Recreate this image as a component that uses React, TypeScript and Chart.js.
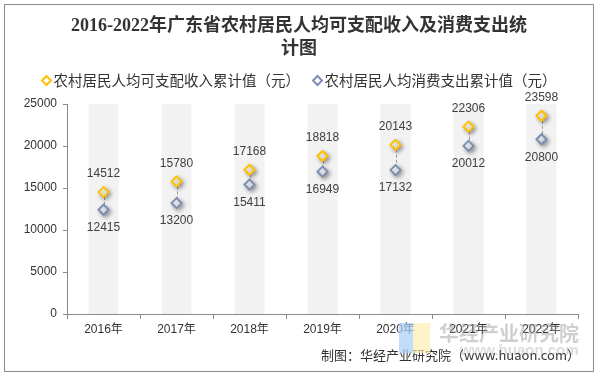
import React, { useEffect, useRef } from 'react';
import { Chart, registerables } from 'chart.js';

Chart.register(...registerables);

const years = ['2016年', '2017年', '2018年', '2019年', '2020年', '2021年', '2022年'];
const income = [14512, 15780, 17168, 18818, 20143, 22306, 23598];
const expense = [12415, 13200, 15411, 16949, 17132, 20012, 20800];
const yMin = 0;
const yMax = 25000;
const yStep = 5000;

const titleLines = ['2016-2022年广东省农村居民人均可支配收入及消费支出统', '计图'];
const incomeLabel = '农村居民人均可支配收入累计值（元）';
const expenseLabel = '农村居民人均消费支出累计值（元）';
const sourceText = '制图：华经产业研究院（www.huaon.com）';
const watermarkText = '华经产业研究院';
const watermarkUrl = 'www.huaon.com';

const YELLOW = '#FFC000';
const BLUE = '#7D8EB5';
const AXIS = '#8a8a8a';
const TEXT = '#333333';
const LATIN = "'Liberation Sans', Arial, 'Noto Sans CJK SC', sans-serif";
const CJK = "'Noto Sans CJK SC', 'Liberation Sans', sans-serif";

function diamond(ctx: CanvasRenderingContext2D, x: number, y: number, r: number, color: string, lw: number) {
  ctx.beginPath();
  ctx.moveTo(x, y - r);
  ctx.lineTo(x + r, y);
  ctx.lineTo(x, y + r);
  ctx.lineTo(x - r, y);
  ctx.closePath();
  ctx.fillStyle = '#ffffff';
  ctx.fill();
  ctx.lineWidth = lw;
  ctx.strokeStyle = color;
  ctx.stroke();
}

const decorPlugin = {
  id: 'decor',
  beforeDatasetsDraw(chart: any) {
    const { ctx, chartArea, scales } = chart;
    const xs = scales.x;
    const ys = scales.y;
    const step = xs.width / years.length;
    const bw = step * 0.41;
    ctx.save();
    ctx.fillStyle = '#f2f2f2';
    years.forEach((_, i) => {
      const cx = xs.getPixelForValue(i);
      ctx.fillRect(cx - bw / 2, chartArea.top, bw, chartArea.bottom - chartArea.top);
    });
    ctx.strokeStyle = '#9a9a9a';
    ctx.lineWidth = 1;
    ctx.setLineDash([3, 2]);
    years.forEach((_, i) => {
      const cx = Math.round(xs.getPixelForValue(i)) + 0.5;
      ctx.beginPath();
      ctx.moveTo(cx, ys.getPixelForValue(income[i]));
      ctx.lineTo(cx, ys.getPixelForValue(expense[i]));
      ctx.stroke();
    });
    ctx.restore();
  },
  beforeDatasetDraw(chart: any) {
    const ctx = chart.ctx;
    ctx.save();
    ctx.shadowColor = 'rgba(0,0,0,0.35)';
    ctx.shadowBlur = 4;
    ctx.shadowOffsetX = 2;
    ctx.shadowOffsetY = 2;
  },
  afterDatasetDraw(chart: any) {
    chart.ctx.restore();
  },
  afterDatasetsDraw(chart: any) {
    const { ctx, scales } = chart;
    const xs = scales.x;
    const ys = scales.y;
    ctx.save();
    ctx.font = `12px ${LATIN}`;
    ctx.fillStyle = '#404040';
    ctx.textAlign = 'center';
    ctx.textBaseline = 'middle';
    years.forEach((_, i) => {
      const cx = xs.getPixelForValue(i);
      ctx.fillText(String(income[i]), cx, ys.getPixelForValue(income[i]) - 18);
      ctx.fillText(String(expense[i]), cx, ys.getPixelForValue(expense[i]) + 18);
    });
    ctx.restore();
  },
  afterDraw(chart: any) {
    const ctx = chart.ctx;
    ctx.save();
    // legend
    const ds = chart.data.datasets;
    ctx.font = `14.5px ${CJK}`;
    ctx.textBaseline = 'middle';
    ctx.textAlign = 'left';
    const markGap = 7;
    const itemGap = 17.5;
    const widths = ds.map((d: any) => ctx.measureText(d.label).width);
    const total = 5 + (markGap + widths[0]) + itemGap + (markGap + widths[1]);
    let x = chart.width / 2 - total / 2 + 5;
    const ly = 80.5;
    ds.forEach((d: any, i: number) => {
      diamond(ctx, x, ly, 4.5, d.pointBorderColor, 2);
      ctx.fillStyle = TEXT;
      ctx.fillText(d.label, x + markGap, ly);
      x += markGap + widths[i] + itemGap;
    });
    // source
    ctx.font = `13px ${CJK}`;
    ctx.fillStyle = TEXT;
    ctx.textAlign = 'right';
    ctx.fillText(sourceText, 580, 355);
    // watermark
    ctx.globalAlpha = 0.7;
    ctx.fillStyle = '#a9cdfb';
    ctx.fillRect(399, 323, 14, 30);
    ctx.fillStyle = '#fdeeb0';
    ctx.fillRect(413, 323, 17, 30);
    ctx.globalAlpha = 1;
    ctx.textAlign = 'left';
    ctx.font = `bold 20px ${CJK}`;
    ctx.fillStyle = 'rgba(140,140,140,0.42)';
    ctx.fillText(watermarkText, 439, 333);
    ctx.font = `bold 15px ${LATIN}`;
    ctx.fillStyle = 'rgba(140,140,140,0.3)';
    ctx.fillText(watermarkUrl, 460, 351);
    // border
    ctx.strokeStyle = '#8c8c8c';
    ctx.lineWidth = 1;
    ctx.strokeRect(4.5, 4.5, 589, 367);
    ctx.restore();
  },
};

export default function App() {
  const ref = useRef<HTMLCanvasElement | null>(null);

  useEffect(() => {
    if (!ref.current) return;
    const chart = new Chart(ref.current, {
      type: 'line',
      data: {
        labels: years,
        datasets: [
          {
            label: incomeLabel,
            data: income,
            showLine: false,
            pointStyle: 'rectRot',
            pointRadius: 5,
            pointHoverRadius: 5,
            pointBorderWidth: 2,
            pointBorderColor: YELLOW,
            pointBackgroundColor: '#ffffff',
            borderColor: YELLOW,
            backgroundColor: '#ffffff',
          },
          {
            label: expenseLabel,
            data: expense,
            showLine: false,
            pointStyle: 'rectRot',
            pointRadius: 5,
            pointHoverRadius: 5,
            pointBorderWidth: 2,
            pointBorderColor: BLUE,
            pointBackgroundColor: '#ffffff',
            borderColor: BLUE,
            backgroundColor: '#ffffff',
          },
        ],
      },
      options: {
        responsive: false,
        animation: false,
        devicePixelRatio: 1,
        events: [],
        layout: { padding: { top: 0, left: 0, right: 0, bottom: 33 } },
        plugins: {
          tooltip: { enabled: false },
          title: {
            display: true,
            text: titleLines,
            color: TEXT,
            font: { size: 18, weight: 'bold', family: "'Liberation Serif', 'Noto Sans CJK SC', serif", lineHeight: 23 / 18 },
            padding: { top: 15, bottom: 43 },
          },
          legend: { display: false },
        },
        scales: {
          x: {
            type: 'category',
            offset: true,
            grid: { display: true, offset: true, drawOnChartArea: false, tickLength: 5, color: AXIS },
            border: { display: true, color: AXIS },
            ticks: { color: TEXT, font: { size: 12, family: LATIN }, padding: 3, maxRotation: 0 },
            afterFit: (s: any) => { s.height = 30; },
          },
          y: {
            min: yMin,
            max: yMax,
            grid: { display: true, drawOnChartArea: false, tickLength: 4, color: AXIS },
            border: { display: true, color: AXIS },
            ticks: {
              stepSize: yStep,
              color: TEXT,
              font: { size: 12, family: LATIN },
              padding: 6,
              callback: (v: any) => String(v),
            },
            afterFit: (s: any) => { s.width = 67; },
          },
          yRight: {
            position: 'right',
            display: true,
            min: yMin,
            max: yMax,
            grid: { display: false, drawTicks: false },
            border: { display: false },
            ticks: { display: false },
            afterFit: (s: any) => { s.width = 20; },
          },
        },
      } as any,
      plugins: [decorPlugin],
    });
    return () => chart.destroy();
  }, []);

  return (
    <div style={{ position: 'fixed', left: 0, top: 0, width: 598, height: 377, background: '#ffffff' }}>
      <canvas ref={ref} width={598} height={377} style={{ display: 'block' }} />
    </div>
  );
}
